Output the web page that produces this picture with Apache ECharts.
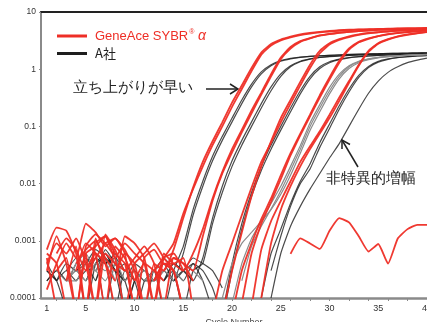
<!DOCTYPE html>
<html>
<head>
<meta charset="utf-8">
<script src="https://cdn.jsdelivr.net/npm/echarts@6/dist/echarts.min.js"></script>
<style>
  html, body { margin: 0; padding: 0; background: #fff; }
  #main { width: 427px; height: 322px; }
</style>
</head>
<body>
<div id="main"></div>
<script>
// cycle numbers 1..40 (x of every run)
var cycles = Array.from({length: 40}, function (_, i) { return i + 1; });
var cycleLabels = [1, 5, 10, 15, 20, 25, 30, 35, 40];
var cycleTicks = [2, 4, 6, 8, 10, 12, 14, 16, 18, 20, 22, 24, 26, 28, 30, 32, 34, 36, 38, 40];

// GeneAce SYBR alpha runs, Delta Rn per cycle (null = below zero / not drawn)
var redRuns = [
  [0.0007, 0.0017, 0.0015, 0.0006, 0.00006, 0.0009, 0.0012, 0.0006, 0.0004, 0.00006,
   null, 0.0003, 0.0005, 0.0009, 0.003, 0.008, 0.02, 0.047, 0.1, 0.22,
   0.45, 0.93, 1.8, 2.6, 3.2, 3.6, 3.95, 4.2, 4.4, 4.55,
   4.7, 4.8, 4.9, 4.95, 5.0, 5.05, 5.1, 5.1, 5.15, 5.2],
  [0.00014, 0.0004, 0.0009, 0.0005, 0.002, 0.0014, 0.0008, 0.0011, 0.0007, 0.0003,
   0.00006, 0.0004, 0.0003, 0.0007, 0.0025, 0.0085, 0.024, 0.055, 0.118, 0.26,
   0.52, 1.05, 1.95, 2.75, 3.3, 3.7, 4.05, 4.3, 4.5, 4.65,
   4.8, 4.9, 4.95, 5.0, 5.05, 5.1, 5.15, 5.2, 5.2, 5.25],
  [null, null, 0.0002, 0.0008, 0.00006, 0.0011, 0.0004, 0.0002, 0.0012, 0.0009,
   0.0005, 0.00008, 0.0006, 0.0004, 0.0003, 0.0006, 0.0016, 0.0055, 0.016, 0.04,
   0.087, 0.19, 0.39, 0.82, 1.6, 2.45, 3.1, 3.5, 3.9, 4.15,
   4.35, 4.5, 4.65, 4.78, 4.88, 4.93, 4.98, 5.03, 5.08, 5.1],
  [0.0003, 0.0012, 0.0004, null, 0.0006, 0.00007, 0.0013, 0.0007, 0.0003, 0.0005,
   0.0008, 0.0004, 0.00007, 0.0005, 0.0004, 0.0003, 0.0012, 0.005, 0.015, 0.035,
   0.079, 0.17, 0.36, 0.75, 1.5, 2.3, 3.0, 3.45, 3.85, 4.1,
   4.3, 4.48, 4.62, 4.75, 4.85, 4.92, 4.97, 5.0, 5.05, 5.1],
  [null, null, null, 0.0003, 0.0009, 0.0006, 0.00006, 0.0008, 0.0005, 0.0002,
   null, 0.0002, 0.0004, 0.0003, 0.00006, null, null, null, 0.00005, 0.0003,
   0.0014, 0.006, 0.02, 0.055, 0.14, 0.29, 0.6, 1.2, 2.1, 2.85,
   3.35, 3.75, 4.05, 4.3, 4.45, 4.6, 4.72, 4.82, 4.9, 4.95],
  [0.0005, 0.00006, null, 0.0004, 0.0007, 0.001, 0.0005, 0.0003, 0.0006, 0.0004,
   0.00006, null, 0.0003, 0.0005, 0.0004, 0.0002, null, 0.00005, 0.0003, 0.0009,
   0.0028, 0.0085, 0.024, 0.052, 0.118, 0.25, 0.52, 1.05, 1.9, 2.7,
   3.25, 3.65, 3.98, 4.22, 4.4, 4.55, 4.68, 4.78, 4.86, 4.93],
  [0.0004, 0.0009, 0.0006, 0.0011, 0.0004, 0.00006, 0.0006, 0.0004, 0.0003, null,
   null, 0.0002, 0.0004, 0.0003, null, null, null, null, null, 0.00005,
   0.0003, 0.0009, 0.0024, 0.0055, 0.014, 0.034, 0.075, 0.16, 0.35, 0.72,
   1.4, 2.3, 3.0, 3.45, 3.8, 4.1, 4.3, 4.47, 4.62, 4.75],
  [null, 0.0003, 0.0005, 0.00006, 0.0006, 0.0008, 0.0012, 0.0005, 0.0009, 0.0006,
   0.0004, 0.00007, 0.0005, 0.0006, 0.0003, null, null, null, null, null,
   0.00008, 0.0006, 0.002, 0.0048, 0.012, 0.031, 0.07, 0.15, 0.32, 0.66,
   1.3, 2.2, 2.95, 3.4, 3.8, 4.08, 4.28, 4.45, 4.6, 4.72],
  [null, 0.0006, 0.0011, 0.0007, 0.0003, 0.0005, 0.0009, 0.0011, 0.0006, 0.00006,
   0.0005, 0.0007, 0.0004, 0.0004, 0.0005, 0.00006, null, null, null, null,
   null, 0.00007, 0.0007, 0.0022, 0.005, 0.011, 0.024, 0.045, 0.082, 0.16,
   0.32, 0.62, 1.2, 2.1, 2.85, 3.35, 3.75, 4.05, 4.28, 4.48],
  [0.0006, 0.0004, 0.00006, null, 0.0003, 0.0006, 0.0004, 0.00006, null, 0.0002,
   0.0004, 0.0003, 0.0002, null, null, null, null, null, null, null,
   null, null, 0.0001, 0.0009, 0.0035, 0.009, 0.02, 0.04, 0.075, 0.14,
   0.28, 0.58, 1.15, 2.0, 2.8, 3.3, 3.7, 4.0, 4.25, 4.45],
  // no-template control
  [null, null, 0.0004, 0.00006, 0.0008, 0.0013, 0.0009, 0.0005, 0.00006, 0.0004,
   0.0006, 0.0009, 0.0005, 0.0003, 0.00006, null, null, null, null, null,
   null, null, null, null, null, 0.00059, 0.0011, 0.0009, 0.00072, 0.0015,
   0.0025, 0.0021, 0.0012, 0.00065, 0.00088, 0.0004, 0.0011, 0.0016, 0.0019, 0.0019]
];

// competitor (A社) runs
var blackRuns = [
  [null, null, 0.0003, 0.0005, 0.00006, 0.0004, 0.0006, 0.0003, 0.0002, null,
   0.0002, 0.0003, 0.00006, 0.0003, 0.0008, 0.0035, 0.011, 0.03, 0.067, 0.14,
   0.29, 0.55, 0.9, 1.2, 1.42, 1.55, 1.63, 1.68, 1.72, 1.75,
   1.78, 1.81, 1.83, 1.85, 1.87, 1.89, 1.9, 1.91, 1.92, 1.93],
  [0.0004, 0.0002, null, 0.0003, 0.0004, 0.0007, 0.0005, 0.00006, 0.0003, 0.0002,
   null, 0.0002, 0.0004, 0.0002, 0.0006, 0.0028, 0.009, 0.025, 0.057, 0.12,
   0.25, 0.49, 0.83, 1.15, 1.38, 1.52, 1.61, 1.67, 1.71, 1.74,
   1.77, 1.8, 1.82, 1.84, 1.86, 1.88, 1.89, 1.9, 1.91, 1.92],
  [null, 0.0002, 0.0004, 0.0003, 0.0005, 0.0003, 0.0007, 0.0004, 0.0002, 0.00006,
   0.0002, null, 0.0002, 0.0004, 0.0003, 0.0002, 0.0005, 0.0025, 0.009, 0.025,
   0.057, 0.12, 0.25, 0.49, 0.83, 1.15, 1.38, 1.52, 1.61, 1.67,
   1.71, 1.74, 1.77, 1.8, 1.82, 1.84, 1.86, 1.88, 1.89, 1.9],
  [0.0003, 0.0002, 0.00006, null, 0.0003, 0.0006, 0.0004, 0.0005, 0.0003, null,
   0.0002, 0.0003, 0.0005, 0.0003, 0.00006, 0.0003, 0.0004, 0.002, 0.007, 0.02,
   0.047, 0.1, 0.21, 0.42, 0.75, 1.1, 1.35, 1.5, 1.6, 1.66,
   1.7, 1.74, 1.77, 1.8, 1.82, 1.84, 1.86, 1.88, 1.9, 1.91],
  [null, null, 0.0002, 0.0003, 0.0002, 0.0005, 0.0004, 0.0006, 0.00006, 0.0002,
   0.0003, 0.0002, null, 0.0002, 0.0003, 0.0002, null, null, 0.00005, 0.0004,
   0.002, 0.007, 0.02, 0.047, 0.1, 0.21, 0.42, 0.75, 1.1, 1.35,
   1.5, 1.6, 1.66, 1.7, 1.74, 1.77, 1.8, 1.82, 1.84, 1.86],
  [0.0002, 0.0003, 0.0002, 0.0004, null, 0.0002, 0.0005, 0.0003, 0.0004, 0.0002,
   0.00006, 0.0003, 0.0002, 0.0004, 0.0003, 0.0004, 0.0003, 0.00015, 0.00005, 0.0003,
   0.0016, 0.006, 0.017, 0.04, 0.086, 0.18, 0.37, 0.68, 1.03, 1.3,
   1.47, 1.58, 1.65, 1.7, 1.74, 1.77, 1.8, 1.82, 1.84, 1.86],
  [0.0003, 0.0002, null, 0.0002, 0.0003, 0.0005, 0.00006, 0.0004, 0.0002, 0.0003,
   0.0002, 0.0002, 0.0003, null, null, null, null, null, null, null,
   null, null, 0.0001, 0.0006, 0.0016, 0.0045, 0.011, 0.022, 0.052, 0.11,
   0.23, 0.45, 0.78, 1.12, 1.37, 1.51, 1.6, 1.66, 1.7, 1.74],
  [null, 0.0002, 0.0003, 0.0002, 0.0004, 0.0002, 0.0006, 0.0003, 0.0002, 0.0004,
   0.0003, null, 0.0002, 0.0003, 0.0002, 0.0004, 0.0002, 0.00006, null, null,
   null, null, null, 0.0003, 0.0012, 0.004, 0.01, 0.018, 0.043, 0.092,
   0.2, 0.4, 0.72, 1.07, 1.33, 1.49, 1.59, 1.65, 1.7, 1.73],
  // non-specific amplification
  [0.0002, 0.0003, 0.0002, null, 0.0002, 0.0004, 0.0005, 0.0003, 0.00006, 0.0002,
   null, 0.0002, 0.0003, 0.0002, 0.0003, 0.0005, 0.0004, 0.0003, 0.00015, null,
   null, null, null, 0.0001, 0.0006, 0.0018, 0.004, 0.008, 0.015, 0.028,
   0.05, 0.1, 0.2, 0.38, 0.62, 0.88, 1.1, 1.3, 1.44, 1.56]
];

// lighter competitor runs
var grayRuns = [
  [null, 0.0003, 0.0002, 0.0004, 0.0006, 0.0003, 0.0005, 0.0002, null, 0.0002,
   0.0003, 0.0002, 0.0003, 0.0005, 0.0004, 0.0003, 0.0002, null, null, 0.00008,
   0.0004, 0.0011, 0.0022, 0.0045, 0.009, 0.02, 0.046, 0.115, 0.24, 0.48,
   0.82, 1.15, 1.38, 1.52, 1.61, 1.67, 1.72, 1.76, 1.79, 1.82],
  [0.0002, null, 0.0002, 0.0003, 0.0002, 0.0004, 0.0003, 0.0005, 0.0002, 0.0003,
   null, 0.0002, 0.0003, 0.0002, null, null, null, null, null, null,
   0.0002, 0.0008, 0.0018, 0.0036, 0.0075, 0.017, 0.04, 0.1, 0.21, 0.42,
   0.75, 1.1, 1.35, 1.5, 1.6, 1.66, 1.71, 1.75, 1.78, 1.8],
  [null, null, 0.0002, 0.0002, 0.0004, 0.0003, 0.0002, 0.0004, 0.0003, null,
   0.0002, 0.0003, 0.0004, 0.0003, 0.0002, null, null, null, 0.0001, 0.0004,
   0.0009, 0.0014, 0.0022, 0.0035, 0.0065, 0.014, 0.034, 0.085, 0.18, 0.37,
   0.68, 1.03, 1.3, 1.47, 1.58, 1.65, 1.7, 1.74, 1.77, 1.8]
];

var RED = '#ee2e26';
var BLACK = '#1e1e1e';
var GRAY = '#8c8c8c';
var NAME_RED = 'GeneAce SYBR® α';
var NAME_BLACK = 'A社';

function toSeries(rows, name, color, width, opacity) {
    return rows.map(function (row) {
        return {
            type: 'line',
            name: name,
            data: row.map(function (v, i) { return [cycles[i], v == null ? '-' : v]; }),
            showSymbol: false,
            smooth: 0.15,
            connectNulls: false,
            silent: true,
            animation: false,
            lineStyle: {color: color, width: width, opacity: opacity},
            itemStyle: {color: color}
        };
    });
}

var series = []
    .concat(toSeries(blackRuns, NAME_BLACK, BLACK, 1.2, 0.8))
    .concat(toSeries(grayRuns, NAME_BLACK, GRAY, 1.2, 1))
    .concat(toSeries(redRuns, NAME_RED, RED, 1.8, 0.95));

var txt = '"Liberation Sans", Arial, sans-serif';
var jp = '"Noto Sans CJK JP", sans-serif';

var chart = echarts.init(document.getElementById('main'));
chart.setOption({
    backgroundColor: '#fff',
    animation: false,
    grid: {left: 41, right: 0, top: 12, bottom: 24, outerBoundsMode: 'none', containLabel: false},
    legend: {
        left: 52,
        top: 24,
        orient: 'vertical',
        itemWidth: 30,
        itemHeight: 3,
        itemGap: 4,
        selectedMode: false,
        data: [
            {name: NAME_RED, icon: 'rect', itemStyle: {color: RED}},
            {name: NAME_BLACK, icon: 'rect', itemStyle: {color: BLACK}}
        ],
        formatter: function (name) {
            if (name === NAME_BLACK) return '{k|A社}';
            return '{r|GeneAce SYBR}{s|®}{r| }{a|α}';
        },
        textStyle: {
            padding: [0, 0, 0, 3],
            rich: {
                r: {color: RED, fontSize: 13, fontFamily: txt},
                s: {color: RED, fontSize: 7, fontFamily: txt, verticalAlign: 'top', padding: [0, 0, 6, 1]},
                a: {color: RED, fontSize: 14, fontFamily: txt, fontStyle: 'italic'},
                k: {color: '#222', fontSize: 13, fontFamily: jp}
            }
        }
    },
    xAxis: [{
        type: 'value',
        min: 0.4,
        max: 40,
        name: 'Cycle Number',
        nameLocation: 'middle',
        nameGap: 17,
        nameTextStyle: {fontSize: 9, color: '#444', fontFamily: txt},
        axisLine: {lineStyle: {color: '#8a8a8a', width: 2.5}},
        axisTick: {customValues: cycleTicks, length: 3, lineStyle: {color: '#8a8a8a', width: 1}},
        axisLabel: {customValues: cycleLabels, fontSize: 9, color: '#333', margin: 6, fontFamily: txt},
        splitLine: {show: false}
    }, {
        type: 'value',
        position: 'top',
        min: 0.4,
        max: 40,
        axisLine: {lineStyle: {color: '#222', width: 2}},
        axisTick: {show: false},
        axisLabel: {show: false},
        splitLine: {show: false}
    }],
    yAxis: {
        type: 'log',
        logBase: 10,
        min: 0.0001,
        max: 10,
        name: 'Delta Rn',
        nameLocation: 'middle',
        nameGap: 29,
        nameTextStyle: {fontSize: 8, color: '#444', fontFamily: txt},
        axisLine: {show: true, lineStyle: {color: '#8a8a8a', width: 2}},
        axisTick: {show: true, length: 2, lineStyle: {color: '#8a8a8a'}},
        axisLabel: {
            fontSize: 8.5,
            color: '#333',
            margin: 5,
            fontFamily: txt,
            formatter: function (v) { return String(+Number(v).toPrecision(1)); }
        },
        splitLine: {show: false}
    },
    graphic: [
        {type: 'text', left: 73, top: 80, style: {text: '立ち上がりが早い', fontSize: 14.5, fill: '#222', font: '14.5px "Noto Sans CJK JP"'}},
        {type: 'polyline', shape: {points: [[206, 89], [238, 89]]}, style: {stroke: '#222', lineWidth: 1.5}},
        {type: 'polyline', shape: {points: [[230, 84], [238, 89], [230, 94]]}, style: {stroke: '#222', lineWidth: 1.5, fill: null}},
        {type: 'text', left: 326, top: 171, style: {text: '非特異的増幅', fontSize: 14.5, fill: '#222', font: '14.5px "Noto Sans CJK JP"'}},
        {type: 'polyline', shape: {points: [[358, 167], [342, 140]]}, style: {stroke: '#222', lineWidth: 1.5}},
        {type: 'polyline', shape: {points: [[342, 149], [342, 140], [350, 144.5]]}, style: {stroke: '#222', lineWidth: 1.5, fill: null}}
    ],
    series: series
});
</script>
</body>
</html>
